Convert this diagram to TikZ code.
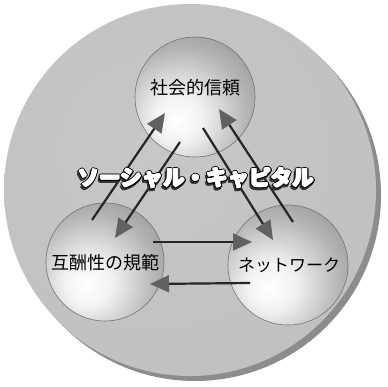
\documentclass[tikz,border=0pt]{standalone}
\usepackage{fontspec}
\newfontfamily\jp{Noto Sans CJK JP}
\usetikzlibrary{arrows.meta,calc}
\pgfdeclareradialshading{sph}{\pgfpoint{-8bp}{-10bp}}{color(0bp)=(white);color(10bp)=(white!95!black);color(28bp)=(white!70!black);color(46bp)=(white!52!black);color(50bp)=(white!50!black);color(100bp)=(white!50!black)}
\pgfdeclareradialshading{bigbg}{\pgfpoint{-6bp}{6bp}}{color(0bp)=(white!78!black);color(40bp)=(white!75!black);color(48bp)=(white!82!black);color(50bp)=(white!86!black);color(100bp)=(white!86!black)}
\newcommand{\sctitle}{ソーシャル・キャピタル}
\begin{document}
\begin{tikzpicture}[x=1pt,y=-1pt,
  sphere/.style={circle, minimum size=120pt, inner sep=0pt, shade, shading=sph, draw=black!55, line width=0.6pt},
  lbl/.style={font=\jp\fontsize{18}{18}\selectfont, text=black, inner sep=0pt},
  ttl/.style={font=\jp\bfseries\fontsize{21.5}{22}\selectfont, inner sep=0pt},
  link/.style={line width=2.2pt, draw=black!85, -{Triangle[length=19pt,width=17pt,color=black!62]}}
]
\useasboundingbox (0,0) rectangle (387,387);
\fill[white] (0,0) rectangle (387,387);
% background disc with shadow
\fill[black!45] (195,195) circle[radius=186pt];
\shade[shading=bigbg] (190,190) circle[radius=186pt];
% spheres
\node[sphere] (trust) at (195,97) {};
\node[sphere, minimum size=118pt] (norm) at (105,262) {};
\node[sphere] (net) at (288,265) {};
% labels
\node[lbl] (trustlbl) at (195,88) {社会的信頼};
\node[lbl] (normlbl) at (105,263) {互酬性の規範};
\node[lbl, font=\jp\fontsize{17}{17}\selectfont] (netlbl) at (289,265) {ネットワーク};
% connectors
\draw[link] ([shift={(-13,-42)}]norm.center) -- ([shift={(-30,16)}]trust.center);
\draw[link] ([shift={(-15,45)}]trust.center) -- ([shift={(10,-24)}]norm.center);
\draw[link] ([shift={(8,31)}]trust.center) -- ([shift={(-15,-25)}]net.center);
\draw[link] ([shift={(5,-43)}]net.center) -- ([shift={(24,12)}]trust.center);
\draw[link] ([shift={(48,-20)}]norm.center) -- ([shift={(-36,-23)}]net.center);
\draw[link] ([shift={(-38,18)}]net.center) -- ([shift={(45,22)}]norm.center);
% title: shadow, black outline, thickened white body
\foreach \a in {0,45,...,315}
  \node[ttl, text=black!80] at ($(194.8,180.2)+(\a:1.7pt)$) {\sctitle};
\foreach \a in {0,30,...,330}
  \node[ttl, text=black] at ($(196,178)+(\a:1.7pt)$) {\sctitle};
\foreach \a in {0,60,...,300}
  \node[ttl, text=white] at ($(196,178)+(\a:0.6pt)$) {\sctitle};
\node[ttl, text=white] (sc) at (196,178) {\sctitle};
\end{tikzpicture}
\end{document}
